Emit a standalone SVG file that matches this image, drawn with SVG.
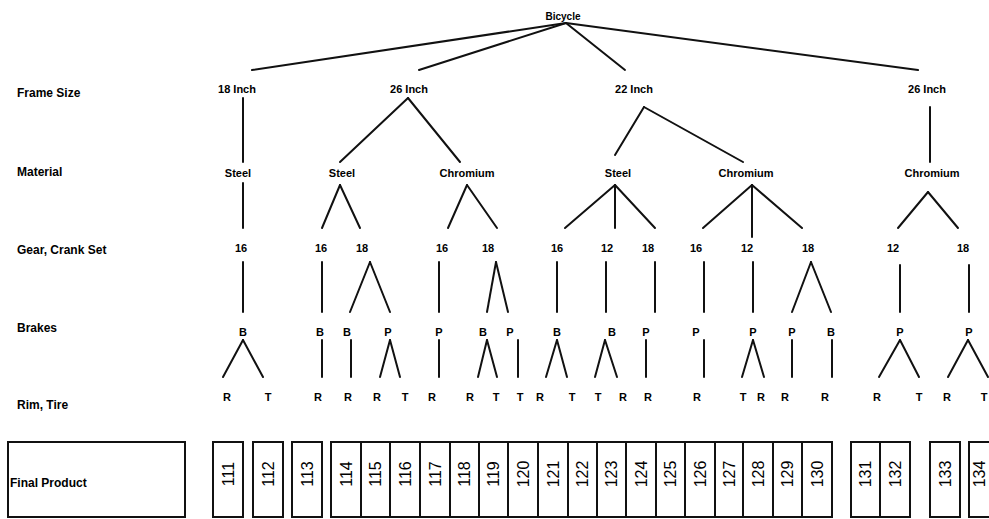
<svg xmlns="http://www.w3.org/2000/svg" width="989" height="519" viewBox="0 0 989 519">
<style>
.bg{fill:#fff}
.c line{stroke:#111;stroke-width:2;stroke-linecap:round}
.n{font-family:"Liberation Sans",Arial,sans-serif;font-weight:bold;font-size:11px;fill:#000;text-anchor:middle}
.r{font-family:"Liberation Sans",Arial,sans-serif;font-weight:bold;font-size:12px;fill:#000}
.box{fill:#fff;stroke:#111;stroke-width:2}
.p{font-family:"Liberation Sans",Arial,sans-serif;font-size:16px;fill:#000;text-anchor:middle;dominant-baseline:central}
</style>
<rect class="bg" x="0" y="0" width="989" height="519"/>
<g id="row-labels">
<text class="r" x="17" y="97">Frame Size</text>
<text class="r" x="17" y="176">Material</text>
<text class="r" x="17" y="254">Gear, Crank Set</text>
<text class="r" x="17" y="332">Brakes</text>
<text class="r" x="17" y="409">Rim, Tire</text>
</g>
<g class="c" id="connectors">
<line x1="566" y1="23" x2="252" y2="70"/>
<line x1="566" y1="23" x2="419" y2="70"/>
<line x1="566" y1="23" x2="625" y2="70"/>
<line x1="566" y1="23" x2="918" y2="70"/>
<line x1="243" y1="98" x2="243" y2="162"/>
<line x1="408" y1="98" x2="340" y2="162"/>
<line x1="408" y1="98" x2="460" y2="162"/>
<line x1="644" y1="107" x2="615" y2="155"/>
<line x1="644" y1="107" x2="743" y2="162"/>
<line x1="930" y1="107" x2="930" y2="162"/>
<line x1="243" y1="183" x2="243" y2="228"/>
<line x1="340" y1="185" x2="322" y2="228"/>
<line x1="340" y1="185" x2="360" y2="228"/>
<line x1="467" y1="185" x2="448" y2="228"/>
<line x1="467" y1="185" x2="497" y2="228"/>
<line x1="615" y1="185" x2="565" y2="228"/>
<line x1="615" y1="185" x2="615" y2="228"/>
<line x1="615" y1="185" x2="655" y2="228"/>
<line x1="752" y1="185" x2="703" y2="228"/>
<line x1="752" y1="185" x2="752" y2="237"/>
<line x1="752" y1="185" x2="802" y2="228"/>
<line x1="928" y1="192" x2="898" y2="228"/>
<line x1="928" y1="192" x2="958" y2="228"/>
<line x1="243" y1="262" x2="243" y2="312"/>
<line x1="322" y1="262" x2="322" y2="312"/>
<line x1="370" y1="262" x2="350" y2="312"/>
<line x1="370" y1="262" x2="390" y2="312"/>
<line x1="439" y1="262" x2="439" y2="312"/>
<line x1="496" y1="262" x2="487" y2="312"/>
<line x1="496" y1="262" x2="508" y2="312"/>
<line x1="557" y1="262" x2="557" y2="312"/>
<line x1="606" y1="262" x2="606" y2="312"/>
<line x1="655" y1="262" x2="655" y2="312"/>
<line x1="704" y1="262" x2="704" y2="312"/>
<line x1="753" y1="262" x2="753" y2="312"/>
<line x1="811" y1="262" x2="792" y2="312"/>
<line x1="811" y1="262" x2="831" y2="312"/>
<line x1="900" y1="265" x2="900" y2="312"/>
<line x1="969" y1="265" x2="969" y2="312"/>
<line x1="243" y1="340" x2="223" y2="377"/>
<line x1="243" y1="340" x2="263" y2="377"/>
<line x1="322" y1="340" x2="322" y2="377"/>
<line x1="351" y1="340" x2="351" y2="377"/>
<line x1="390" y1="340" x2="380" y2="377"/>
<line x1="390" y1="340" x2="400" y2="377"/>
<line x1="439" y1="340" x2="439" y2="377"/>
<line x1="487" y1="340" x2="478" y2="377"/>
<line x1="487" y1="340" x2="497" y2="377"/>
<line x1="518" y1="340" x2="518" y2="377"/>
<line x1="557" y1="340" x2="546" y2="377"/>
<line x1="557" y1="340" x2="567" y2="377"/>
<line x1="605" y1="340" x2="595" y2="377"/>
<line x1="605" y1="340" x2="617" y2="377"/>
<line x1="646" y1="340" x2="646" y2="377"/>
<line x1="704" y1="340" x2="704" y2="377"/>
<line x1="753" y1="340" x2="742" y2="377"/>
<line x1="753" y1="340" x2="764" y2="377"/>
<line x1="792" y1="340" x2="792" y2="377"/>
<line x1="832" y1="340" x2="832" y2="377"/>
<line x1="900" y1="340" x2="879" y2="377"/>
<line x1="900" y1="340" x2="919" y2="377"/>
<line x1="968" y1="340" x2="948" y2="377"/>
<line x1="968" y1="340" x2="988" y2="377"/>
</g>
<g id="root"><text class="n" x="563" y="20" style="font-size:10px">Bicycle</text></g>
<g id="frame-1"><text class="n" x="237" y="93">18 Inch</text></g>
<g id="frame-2"><text class="n" x="409" y="93">26 Inch</text></g>
<g id="frame-3"><text class="n" x="634" y="93">22 Inch</text></g>
<g id="frame-4"><text class="n" x="927" y="93">26 Inch</text></g>
<g id="mat-1"><text class="n" x="238" y="177">Steel</text></g>
<g id="mat-2"><text class="n" x="342" y="177">Steel</text></g>
<g id="mat-3"><text class="n" x="467" y="177">Chromium</text></g>
<g id="mat-4"><text class="n" x="618" y="177">Steel</text></g>
<g id="mat-5"><text class="n" x="746" y="177">Chromium</text></g>
<g id="mat-6"><text class="n" x="932" y="177">Chromium</text></g>
<g id="gear-1"><text class="n" x="241" y="252">16</text></g>
<g id="gear-2"><text class="n" x="321" y="252">16</text></g>
<g id="gear-3"><text class="n" x="362" y="252">18</text></g>
<g id="gear-4"><text class="n" x="442" y="252">16</text></g>
<g id="gear-5"><text class="n" x="488" y="252">18</text></g>
<g id="gear-6"><text class="n" x="557" y="252">16</text></g>
<g id="gear-7"><text class="n" x="607" y="252">12</text></g>
<g id="gear-8"><text class="n" x="648" y="252">18</text></g>
<g id="gear-9"><text class="n" x="696" y="252">16</text></g>
<g id="gear-10"><text class="n" x="747" y="252">12</text></g>
<g id="gear-11"><text class="n" x="808" y="252">18</text></g>
<g id="gear-12"><text class="n" x="893" y="252">12</text></g>
<g id="gear-13"><text class="n" x="963" y="252">18</text></g>
<g id="brake-1"><text class="n" x="243" y="336">B</text></g>
<g id="brake-2"><text class="n" x="320" y="336">B</text></g>
<g id="brake-3"><text class="n" x="347" y="336">B</text></g>
<g id="brake-4"><text class="n" x="388" y="336">P</text></g>
<g id="brake-5"><text class="n" x="439" y="336">P</text></g>
<g id="brake-6"><text class="n" x="483" y="336">B</text></g>
<g id="brake-7"><text class="n" x="510" y="336">P</text></g>
<g id="brake-8"><text class="n" x="557" y="336">B</text></g>
<g id="brake-9"><text class="n" x="612" y="336">B</text></g>
<g id="brake-10"><text class="n" x="646" y="336">P</text></g>
<g id="brake-11"><text class="n" x="696" y="336">P</text></g>
<g id="brake-12"><text class="n" x="753" y="336">P</text></g>
<g id="brake-13"><text class="n" x="792" y="336">P</text></g>
<g id="brake-14"><text class="n" x="831" y="336">B</text></g>
<g id="brake-15"><text class="n" x="900" y="336">P</text></g>
<g id="brake-16"><text class="n" x="969" y="336">P</text></g>
<g id="tire-1"><text class="n" x="227" y="401">R</text></g>
<g id="tire-2"><text class="n" x="268" y="401">T</text></g>
<g id="tire-3"><text class="n" x="318" y="401">R</text></g>
<g id="tire-4"><text class="n" x="348" y="401">R</text></g>
<g id="tire-5"><text class="n" x="377" y="401">R</text></g>
<g id="tire-6"><text class="n" x="405" y="401">T</text></g>
<g id="tire-7"><text class="n" x="432" y="401">R</text></g>
<g id="tire-8"><text class="n" x="470" y="401">R</text></g>
<g id="tire-9"><text class="n" x="496" y="401">T</text></g>
<g id="tire-10"><text class="n" x="520" y="401">T</text></g>
<g id="tire-11"><text class="n" x="540" y="401">R</text></g>
<g id="tire-12"><text class="n" x="572" y="401">T</text></g>
<g id="tire-13"><text class="n" x="598" y="401">T</text></g>
<g id="tire-14"><text class="n" x="623" y="401">R</text></g>
<g id="tire-15"><text class="n" x="648" y="401">R</text></g>
<g id="tire-16"><text class="n" x="697" y="401">R</text></g>
<g id="tire-17"><text class="n" x="743" y="401">T</text></g>
<g id="tire-18"><text class="n" x="761" y="401">R</text></g>
<g id="tire-19"><text class="n" x="785" y="401">R</text></g>
<g id="tire-20"><text class="n" x="825" y="401">R</text></g>
<g id="tire-21"><text class="n" x="877" y="401">R</text></g>
<g id="tire-22"><text class="n" x="919" y="401">T</text></g>
<g id="tire-23"><text class="n" x="947" y="401">R</text></g>
<g id="tire-24"><text class="n" x="984" y="401">T</text></g>
<g id="final-product-label"><rect class="box" x="8" y="442" width="177" height="75"/><text class="r" x="10" y="487">Final Product</text></g>
<g id="p111"><rect class="box" x="213" y="442" width="30" height="75"/><text class="p" transform="translate(228,474) rotate(-90)">111</text></g>
<g id="p112"><rect class="box" x="253" y="442" width="30" height="75"/><text class="p" transform="translate(268,474) rotate(-90)">112</text></g>
<g id="p113"><rect class="box" x="292" y="442" width="30" height="75"/><text class="p" transform="translate(307,474) rotate(-90)">113</text></g>
<g id="p114"><rect class="box" x="331" y="442" width="30" height="75"/><text class="p" transform="translate(346,474) rotate(-90)">114</text></g>
<g id="p115"><rect class="box" x="361" y="442" width="29" height="75"/><text class="p" transform="translate(375.5,474) rotate(-90)">115</text></g>
<g id="p116"><rect class="box" x="390" y="442" width="30" height="75"/><text class="p" transform="translate(405,474) rotate(-90)">116</text></g>
<g id="p117"><rect class="box" x="420" y="442" width="30" height="75"/><text class="p" transform="translate(435,474) rotate(-90)">117</text></g>
<g id="p118"><rect class="box" x="450" y="442" width="29" height="75"/><text class="p" transform="translate(464.5,474) rotate(-90)">118</text></g>
<g id="p119"><rect class="box" x="479" y="442" width="29" height="75"/><text class="p" transform="translate(493.5,474) rotate(-90)">119</text></g>
<g id="p120"><rect class="box" x="508" y="442" width="30" height="75"/><text class="p" transform="translate(523,474) rotate(-90)">120</text></g>
<g id="p121"><rect class="box" x="538" y="442" width="30" height="75"/><text class="p" transform="translate(553,474) rotate(-90)">121</text></g>
<g id="p122"><rect class="box" x="568" y="442" width="29" height="75"/><text class="p" transform="translate(582.5,474) rotate(-90)">122</text></g>
<g id="p123"><rect class="box" x="597" y="442" width="29" height="75"/><text class="p" transform="translate(611.5,474) rotate(-90)">123</text></g>
<g id="p124"><rect class="box" x="626" y="442" width="30" height="75"/><text class="p" transform="translate(641,474) rotate(-90)">124</text></g>
<g id="p125"><rect class="box" x="656" y="442" width="29" height="75"/><text class="p" transform="translate(670.5,474) rotate(-90)">125</text></g>
<g id="p126"><rect class="box" x="685" y="442" width="30" height="75"/><text class="p" transform="translate(700,474) rotate(-90)">126</text></g>
<g id="p127"><rect class="box" x="715" y="442" width="28" height="75"/><text class="p" transform="translate(729,474) rotate(-90)">127</text></g>
<g id="p128"><rect class="box" x="743" y="442" width="30" height="75"/><text class="p" transform="translate(758,474) rotate(-90)">128</text></g>
<g id="p129"><rect class="box" x="773" y="442" width="29" height="75"/><text class="p" transform="translate(787.5,474) rotate(-90)">129</text></g>
<g id="p130"><rect class="box" x="802" y="442" width="30" height="75"/><text class="p" transform="translate(817,474) rotate(-90)">130</text></g>
<g id="p131"><rect class="box" x="851" y="442" width="29" height="75"/><text class="p" transform="translate(865.5,474) rotate(-90)">131</text></g>
<g id="p132"><rect class="box" x="880" y="442" width="30" height="75"/><text class="p" transform="translate(895,474) rotate(-90)">132</text></g>
<g id="p133"><rect class="box" x="930" y="442" width="30" height="75"/><text class="p" transform="translate(945,474) rotate(-90)">133</text></g>
<g id="p134"><rect class="box" x="969" y="442" width="30" height="75"/><text class="p" transform="translate(979,474) rotate(-90)">134</text></g>
</svg>
